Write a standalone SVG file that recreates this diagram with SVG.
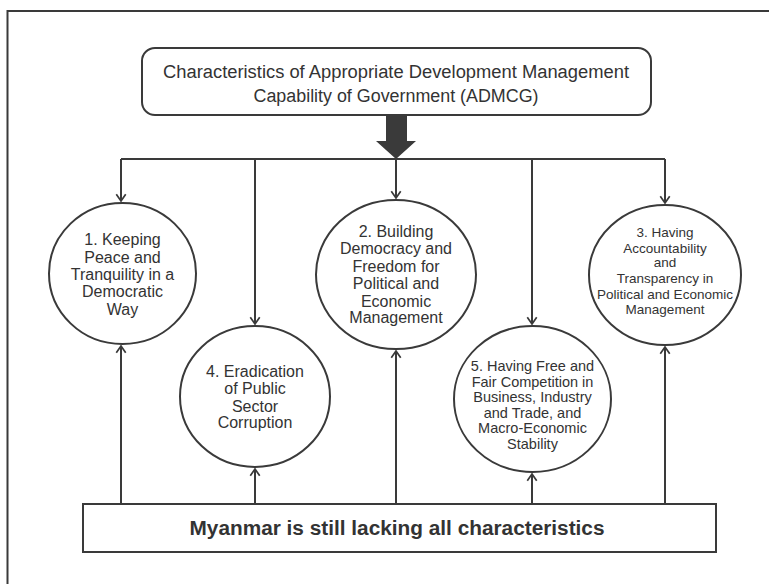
<svg xmlns="http://www.w3.org/2000/svg" width="769" height="584" viewBox="0 0 769 584">
<style>
.ln{fill:none;stroke:#3a3a3a;stroke-width:2}
.nd{fill:#fff;stroke:#3a3a3a;stroke-width:2}
.ct{font-family:"Liberation Sans",Arial,sans-serif;fill:#333;text-anchor:middle}
.c16{font-size:16px}
.c14{font-size:14.5px}
.c13{font-size:13.5px}
</style>
<defs>
<marker id="ah" markerWidth="12" markerHeight="12" viewBox="-1 -7 10 14" refX="8" refY="0" orient="auto" markerUnits="userSpaceOnUse">
<path d="M0,-5.5 L8,0 L0,5.5" fill="none" stroke="#3a3a3a" stroke-width="2"/>
</marker>
</defs>
<rect width="769" height="584" fill="#fff"/>
<rect x="7.5" y="11" width="800" height="620" fill="none" stroke="#3a3a3a" stroke-width="2"/>

<g id="connectors">
<polygon points="386,115 407,115 407,141 416,141 396,159 376,141 386,141" fill="#3a3a3a"/>
<path class="ln" d="M121,159 H665" stroke-width="2.5"/>
<path class="ln" d="M121,159 V201" marker-end="url(#ah)"/>
<path class="ln" d="M255,159 V324" marker-end="url(#ah)"/>
<path class="ln" d="M396,159 V198" marker-end="url(#ah)"/>
<path class="ln" d="M532,159 V324" marker-end="url(#ah)"/>
<path class="ln" d="M665,159 V203" marker-end="url(#ah)"/>
<path class="ln" d="M121,504 V346" marker-end="url(#ah)"/>
<path class="ln" d="M255,504 V469" marker-end="url(#ah)"/>
<path class="ln" d="M396,504 V351" marker-end="url(#ah)"/>
<path class="ln" d="M532,504 V474" marker-end="url(#ah)"/>
<path class="ln" d="M665,504 V347" marker-end="url(#ah)"/>
</g>

<g id="top">
<rect x="142" y="48" width="509" height="67" rx="13" class="nd" stroke-width="1.5"/>
<text class="ct" x="396" y="78" font-size="18" textLength="466" lengthAdjust="spacingAndGlyphs">Characteristics of Appropriate Development Management</text>
<text class="ct" x="396" y="102" font-size="18" textLength="285" lengthAdjust="spacingAndGlyphs">Capability of Government (ADMCG)</text>
</g>

<g id="n1">
<ellipse cx="122.5" cy="273.5" rx="73.5" ry="70.5" class="nd"/>
<text class="ct c16" x="122.5" y="245">1. Keeping</text>
<text class="ct c16" x="122.5" y="263">Peace and</text>
<text class="ct c16" x="122.5" y="280">Tranquility in a</text>
<text class="ct c16" x="122.5" y="297">Democratic</text>
<text class="ct c16" x="122.5" y="315">Way</text>
</g>

<g id="n2">
<ellipse cx="396" cy="274.5" rx="80" ry="74.5" class="nd"/>
<text class="ct c16" x="396" y="237">2. Building</text>
<text class="ct c16" x="396" y="254">Democracy and</text>
<text class="ct c16" x="396" y="272">Freedom for</text>
<text class="ct c16" x="396" y="289">Political and</text>
<text class="ct c16" x="396" y="307">Economic</text>
<text class="ct c16" x="396" y="323">Management</text>
</g>

<g id="n3">
<ellipse cx="665" cy="275" rx="76" ry="70" class="nd"/>
<text class="ct c13" x="665" y="237">3. Having</text>
<text class="ct c13" x="665" y="253">Accountability</text>
<text class="ct c13" x="665" y="267">and</text>
<text class="ct c13" x="665" y="283">Transparency in</text>
<text class="ct c13" x="665" y="299">Political and Economic</text>
<text class="ct c13" x="665" y="314">Management</text>
</g>

<g id="n4">
<ellipse cx="255" cy="396.5" rx="75" ry="70.5" class="nd"/>
<text class="ct c16" x="255" y="377">4. Eradication</text>
<text class="ct c16" x="255" y="394">of Public</text>
<text class="ct c16" x="255" y="412">Sector</text>
<text class="ct c16" x="255" y="428">Corruption</text>
</g>

<g id="n5">
<ellipse cx="532.5" cy="399" rx="78.5" ry="73" class="nd"/>
<text class="ct c14" x="532.5" y="371">5. Having Free and</text>
<text class="ct c14" x="532.5" y="387">Fair Competition in</text>
<text class="ct c14" x="532.5" y="402">Business, Industry</text>
<text class="ct c14" x="532.5" y="418">and Trade, and</text>
<text class="ct c14" x="532.5" y="433">Macro-Economic</text>
<text class="ct c14" x="532.5" y="449">Stability</text>
</g>

<g id="bottom">
<rect x="83" y="504" width="633" height="48" class="nd"/>
<text class="ct" x="397" y="535" font-size="19.5" font-weight="bold" fill="#222" textLength="415" lengthAdjust="spacingAndGlyphs">Myanmar is still lacking all characteristics</text>
</g>
</svg>
